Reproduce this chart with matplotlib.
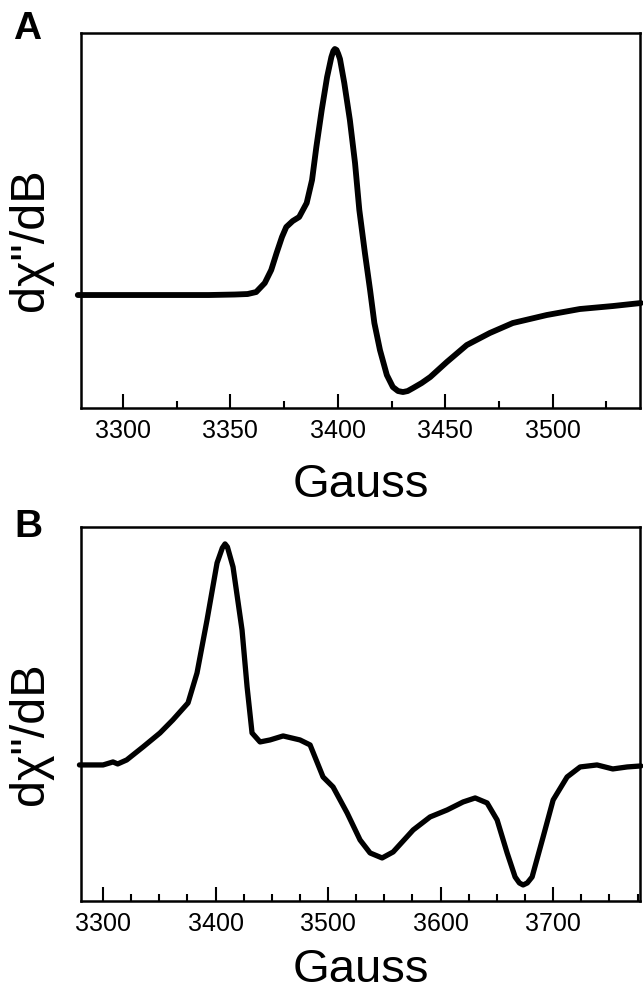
import matplotlib
matplotlib.use("Agg")
import matplotlib.pyplot as plt
from matplotlib.ticker import MultipleLocator

plt.rcParams['font.family'] = ['Liberation Sans', 'DejaVu Sans']

# panel A spectrum (Gauss, arbitrary units)
gauss_a = [3279, 3300, 3320, 3340, 3352, 3358, 3362, 3366, 3369, 3371.5,
           3374, 3376, 3379, 3382, 3385.5, 3388, 3390, 3392.5, 3395, 3397,
           3397.9, 3398.6, 3399.4, 3400.2, 3401, 3403, 3405.6, 3408, 3410,
           3412.6, 3415, 3417, 3419.6, 3422.8, 3425.6, 3428, 3430.3, 3432.5,
           3435, 3439, 3443, 3450.7, 3460, 3470.7, 3481.4, 3497.2, 3512.6,
           3528, 3541]
signal_a = [0, 0, 0, 0, 0.5, 1, 3, 12, 25, 42,
            58, 68, 74, 78, 92, 115, 148, 185, 218, 238,
            244, 246, 245, 241, 236, 212, 175, 132, 85,
            42, 5, -28, -55, -80, -92, -96, -97, -96,
            -93, -88, -82, -67, -50, -38, -28, -20, -14,
            -11, -8]

# panel B spectrum
gauss_b = [3279, 3300, 3308.8, 3313, 3321, 3335.5, 3350.6, 3362, 3375.5,
           3383.5, 3392.4, 3401.3, 3406, 3408.4, 3410.5, 3415.5, 3423.5,
           3428, 3432.4, 3439.5, 3448.4, 3460, 3475, 3484, 3495.5, 3504.4,
           3516.9, 3528.4, 3537.3, 3548, 3557.8, 3575.6, 3590.6, 3605.8,
           3620, 3630.7, 3641.3, 3650.2, 3659.1, 3666.2, 3670, 3673.3,
           3677, 3681.3, 3691.1, 3700, 3712.4, 3724, 3739, 3753, 3765.8,
           3778]
signal_b = [0, 0, 3, 1, 5, 18, 32, 45, 62,
            92, 145, 202, 217, 221, 218, 198, 135,
            78, 32, 23, 25, 29, 25, 20, -12, -22,
            -48, -75, -88, -93, -87, -65, -52, -45,
            -37, -33, -38, -55, -88, -112, -118, -120,
            -118, -112, -72, -35, -12, -2, 0, -4, -2,
            -1]

fig = plt.figure(figsize=(6.43, 9.94), dpi=100)
ax_a = fig.add_axes([0.126, 0.5895, 0.869, 0.3773])
ax_b = fig.add_axes([0.126, 0.0936, 0.869, 0.3763])


def style(ax, major, xlim, ylim):
    ax.set_xlim(*xlim)
    ax.set_ylim(*ylim)
    ax.set_yticks([])
    ax.xaxis.set_major_locator(MultipleLocator(major))
    ax.xaxis.set_minor_locator(MultipleLocator(25))
    ax.tick_params(axis='x', which='major', direction='in', length=10,
                   width=1.5, pad=8, labelsize=18)
    ax.tick_params(axis='x', which='minor', direction='in', length=5,
                   width=1.5)
    for s in ax.spines.values():
        s.set_linewidth(1.8)


ax_a.plot(gauss_a, signal_a, color='black', lw=4.2, clip_on=False,
          solid_capstyle='round', solid_joinstyle='round')
style(ax_a, 50, (3280.5, 3540.5), (-113, 262))

ax_b.plot(gauss_b, signal_b, color='black', lw=3.8, clip_on=False,
          solid_capstyle='round', solid_joinstyle='round')
style(ax_b, 100, (3280.4, 3777), (-136, 238))

# axis titles and panel letters
fig.text(0.562, 0.5, "Gauss", fontsize=34, ha='center', va='baseline')
fig.text(0.562, 0.012, "Gauss", fontsize=34, ha='center', va='baseline')
fig.text(0.048, 0.7586, 'd\u03c7"/dB', fontsize=35, rotation=90,
         ha='center', va='center')
fig.text(0.048, 0.262, 'd\u03c7"/dB', fontsize=35, rotation=90,
         ha='center', va='center')
fig.text(0.042, 0.971, "A", fontsize=28, fontweight='bold',
         ha='center', va='center')
fig.text(0.0435, 0.470, "B", fontsize=28, fontweight='bold',
         ha='center', va='center')

fig.savefig('out.png', dpi=100)
